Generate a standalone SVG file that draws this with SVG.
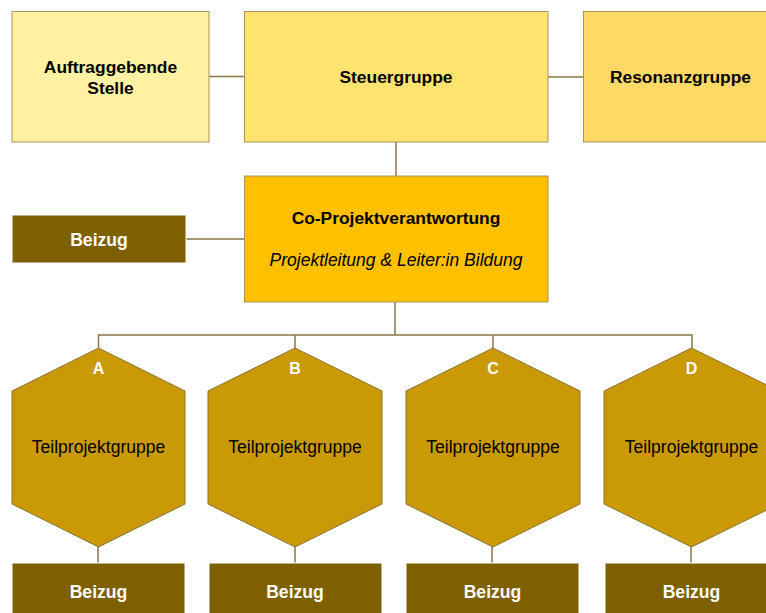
<svg xmlns="http://www.w3.org/2000/svg" width="766" height="613" viewBox="0 0 766 613">
<style>
text{font-family:"Liberation Sans",Arial,sans-serif;text-anchor:middle}
.b{font-weight:bold;font-size:17.4px;fill:#000}
.w{font-weight:bold;font-size:17.6px;fill:#fff}
.l{font-weight:bold;font-size:16px;fill:#fff}
.n{font-size:17.5px;fill:#000}
.i{font-size:17.5px;font-style:italic;fill:#000}
.box{stroke:#A8935A;stroke-width:1}
.bz{fill:#7F6000;stroke:#ffffff;stroke-width:1}
.hex{fill:#C99A06;stroke:#8A7330;stroke-width:1}
.con{fill:none;stroke:#8B7645;stroke-width:1.5}
</style>
<g id="connectors">
<path class="con" d="M209 76.5H244"/>
<path class="con" d="M548 77H583"/>
<path class="con" d="M396 142V176"/>
<path class="con" d="M186 239H244"/>
<path class="con" d="M395 302V335"/>
<path class="con" d="M98.5 348V335H692V348"/>
<path class="con" d="M295 335V348"/>
<path class="con" d="M493 335V348"/>
<path class="con" d="M98 547V563"/>
<path class="con" d="M295 547V563"/>
<path class="con" d="M492 547V563"/>
<path class="con" d="M691 547V563"/>
</g>
<g id="auftraggebende">
<rect class="box" x="12" y="11.5" width="197" height="130.5" fill="#FEF2A2"/>
<text class="b" x="110.5" y="73">Auftraggebende</text>
<text class="b" x="110.5" y="94">Stelle</text>
</g>
<g id="steuergruppe">
<rect class="box" x="244.5" y="11.5" width="303.5" height="130.5" fill="#FFE36F"/>
<text class="b" x="396" y="83">Steuergruppe</text>
</g>
<g id="resonanzgruppe">
<rect class="box" x="583.5" y="11.5" width="195" height="130.5" fill="#FFD966"/>
<text class="b" x="680.5" y="83">Resonanzgruppe</text>
</g>
<g id="coprojekt">
<rect class="box" x="244.5" y="176" width="303.5" height="126" fill="#FFC000"/>
<text class="b" x="396" y="224">Co-Projektverantwortung</text>
<text class="i" x="396" y="266">Projektleitung &amp; Leiter:in Bildung</text>
</g>
<g id="beizug-main">
<rect class="bz" x="12" y="215" width="174" height="48"/>
<text class="w" x="99" y="246">Beizug</text>
</g>
<g id="tpg-a">
<polygon class="hex" points="98.5,348 185,391 185,504 98.5,547 12,504 12,391"/>
<text class="l" x="98.5" y="374">A</text>
<text class="n" x="98.5" y="453">Teilprojektgruppe</text>
</g>
<g id="tpg-b">
<polygon class="hex" points="295,348 382,391 382,504 295,547 208,504 208,391"/>
<text class="l" x="295" y="374">B</text>
<text class="n" x="295" y="453">Teilprojektgruppe</text>
</g>
<g id="tpg-c">
<polygon class="hex" points="493,348 580,391 580,504 493,547 406,504 406,391"/>
<text class="l" x="493" y="374">C</text>
<text class="n" x="493" y="453">Teilprojektgruppe</text>
</g>
<g id="tpg-d">
<polygon class="hex" points="691.5,348 779,391 779,504 691.5,547 604,504 604,391"/>
<text class="l" x="691.5" y="374">D</text>
<text class="n" x="691.5" y="453">Teilprojektgruppe</text>
</g>
<g id="beizug-a">
<rect class="bz" x="12" y="563" width="173" height="55"/>
<text class="w" x="98.5" y="598">Beizug</text>
</g>
<g id="beizug-b">
<rect class="bz" x="209" y="563" width="173" height="55"/>
<text class="w" x="295" y="598">Beizug</text>
</g>
<g id="beizug-c">
<rect class="bz" x="406" y="563" width="173" height="55"/>
<text class="w" x="492.5" y="598">Beizug</text>
</g>
<g id="beizug-d">
<rect class="bz" x="605" y="563" width="173" height="55"/>
<text class="w" x="691.5" y="598">Beizug</text>
</g>
</svg>
